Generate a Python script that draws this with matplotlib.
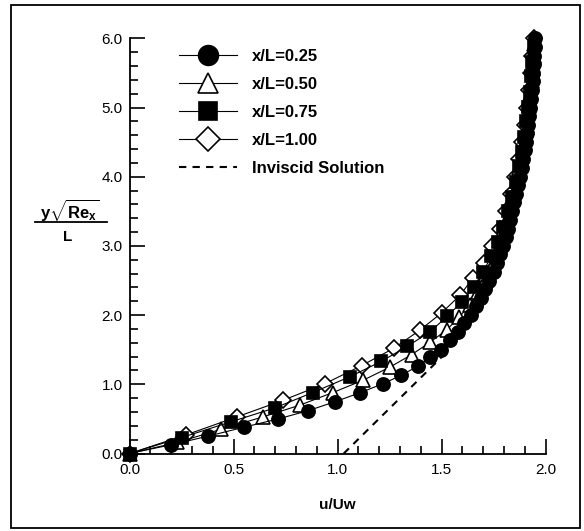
import matplotlib

matplotlib.use("Agg")

import matplotlib.pyplot as plt
from matplotlib.lines import Line2D
from matplotlib.patches import Rectangle
from matplotlib.ticker import MultipleLocator

plt.rcParams["font.family"] = ["Liberation Sans", "DejaVu Sans"]
plt.rcParams["mathtext.fontset"] = "custom"
plt.rcParams["mathtext.rm"] = "Liberation Sans:bold"
plt.rcParams["mathtext.it"] = "Liberation Sans:bold"
plt.rcParams["mathtext.bf"] = "Liberation Sans:bold"

# ---------------------------------------------------------------------------
# Data (u/Uw, y*sqrt(Re_x)/L)
# ---------------------------------------------------------------------------
u_025 = [0.0, 0.20, 0.377, 0.55, 0.715, 0.86, 0.99, 1.11, 1.22, 1.306, 1.385,
         1.445, 1.497, 1.54, 1.578, 1.61, 1.64, 1.665, 1.69, 1.71, 1.73, 1.75,
         1.765, 1.78, 1.795, 1.81, 1.82, 1.83, 1.84, 1.85, 1.86, 1.87, 1.877,
         1.885, 1.892, 1.90, 1.905, 1.91, 1.915, 1.92, 1.925, 1.93, 1.934,
         1.938, 1.941, 1.944, 1.947, 1.949, 1.95]
eta_025 = [0.0, 0.126, 0.25, 0.38, 0.50, 0.62, 0.75, 0.88, 1.01, 1.13, 1.26,
           1.39, 1.50, 1.64, 1.76, 1.88, 2.0, 2.13, 2.25, 2.38, 2.5, 2.63,
           2.75, 2.88, 3.0, 3.13, 3.25, 3.38, 3.5, 3.63, 3.75, 3.88, 4.0,
           4.13, 4.25, 4.38, 4.5, 4.63, 4.75, 4.88, 5.0, 5.13, 5.25, 5.38,
           5.5, 5.63, 5.75, 5.88, 6.0]

u_050 = [0.0, 0.23, 0.44, 0.643, 0.82, 0.977, 1.124, 1.253, 1.357, 1.446,
         1.526, 1.585, 1.635, 1.675, 1.71, 1.74, 1.765, 1.785, 1.805, 1.82,
         1.835, 1.85, 1.862, 1.874, 1.885, 1.895, 1.905, 1.913, 1.92, 1.927,
         1.933, 1.938, 1.943, 1.947]
eta_050 = [0.0, 0.16, 0.35, 0.53, 0.70, 0.88, 1.06, 1.25, 1.43, 1.61, 1.79,
           1.97, 2.15, 2.33, 2.5, 2.68, 2.86, 3.04, 3.22, 3.4, 3.58, 3.76,
           3.94, 4.12, 4.3, 4.48, 4.66, 4.84, 5.02, 5.2, 5.38, 5.56, 5.74,
           5.92]

u_075 = [0.0, 0.25, 0.49, 0.70, 0.88, 1.06, 1.21, 1.336, 1.446, 1.526,
         1.598, 1.655, 1.70, 1.74, 1.77, 1.795, 1.82, 1.84, 1.857, 1.872,
         1.885, 1.897, 1.907, 1.916, 1.924, 1.931, 1.937, 1.943]
eta_075 = [0.0, 0.23, 0.46, 0.66, 0.88, 1.11, 1.33, 1.55, 1.76, 1.98, 2.19,
           2.41, 2.63, 2.85, 3.06, 3.28, 3.5, 3.71, 3.93, 4.15, 4.36, 4.58,
           4.8, 5.01, 5.23, 5.45, 5.66, 5.88]

u_100 = [0.0, 0.273, 0.517, 0.739, 0.94, 1.116, 1.27, 1.395, 1.50, 1.59,
         1.65, 1.706, 1.745, 1.78, 1.81, 1.835, 1.855, 1.872, 1.887, 1.90,
         1.91, 1.92, 1.93, 1.937, 1.943]
eta_100 = [0.0, 0.27, 0.53, 0.77, 1.01, 1.27, 1.52, 1.78, 2.03, 2.29, 2.53,
           2.76, 3.0, 3.25, 3.5, 3.75, 4.0, 4.25, 4.5, 4.75, 5.0, 5.25, 5.5,
           5.75, 6.0]

u_inviscid = [1.03, 1.53]
eta_inviscid = [0.0, 1.48]

labels = ["x/L=0.25", "x/L=0.50", "x/L=0.75", "x/L=1.00", "Inviscid Solution"]

# ---------------------------------------------------------------------------
# Figure
# ---------------------------------------------------------------------------
W, H = 584, 531
fig = plt.figure(figsize=(W / 100, H / 100), dpi=100)
ax = fig.add_axes([129.5 / W, 77.5 / H, 416 / W, 415.2 / H])

line_kw = dict(color="black", lw=0.8, mec="black", mew=1.2, clip_on=False)
ax.plot(u_025, eta_025, marker="o", ms=9.5, mfc="black", label=labels[0],
        zorder=5, **line_kw)
ax.plot(u_050, eta_050, marker="^", ms=10, mfc="white", label=labels[1],
        zorder=3, **line_kw)
ax.plot(u_075, eta_075, marker="s", ms=8.5, mfc="black", label=labels[2],
        zorder=4, **line_kw)
ax.plot(u_100, eta_100, marker="D", ms=8, mfc="white", label=labels[3],
        zorder=2, **line_kw)
ax.plot(u_inviscid, eta_inviscid, ls=(0, (3.5, 3)), color="black", lw=1.5,
        label=labels[4], zorder=1)

ax.set_xlim(0, 2.0)
ax.set_ylim(0, 6.0)
ax.xaxis.set_major_locator(MultipleLocator(0.5))
ax.xaxis.set_minor_locator(MultipleLocator(0.1))
ax.yaxis.set_major_locator(MultipleLocator(1.0))
ax.yaxis.set_minor_locator(MultipleLocator(0.2))
ax.xaxis.set_major_formatter(lambda v, p: f"{v:.1f}")
ax.yaxis.set_major_formatter(lambda v, p: f"{v:.1f}")

for side in ("top", "right"):
    ax.spines[side].set_visible(False)
for side in ("left", "bottom"):
    ax.spines[side].set_linewidth(1.3)

ax.tick_params(which="both", direction="in", width=1.2, labelsize=11)
ax.tick_params(which="major", length=11)
ax.tick_params(which="minor", length=6)
ax.tick_params(axis="y", pad=5)
ax.tick_params(axis="x", pad=7)

ax.set_xlabel("u/Uw", fontsize=11, fontweight="bold", labelpad=15)

# stacked y label  y*sqrt(Re_x) / L
fig.text(70 / W, 1 - 211 / H, r"$y\sqrt{Re_x}$", fontsize=12,
         ha="center", va="center")
fig.add_artist(Line2D([35 / W, 107 / W], [1 - 222 / H, 1 - 222 / H],
                      color="black", lw=1.3))
fig.text(68 / W, 1 - 237 / H, "L", fontsize=11, fontweight="bold",
         ha="center", va="center")

leg = ax.legend(loc="upper left", bbox_to_anchor=(179 / W, 1 - 49 / H),
                bbox_transform=fig.transFigure, frameon=False,
                prop={"weight": "bold", "size": 12},
                handlelength=3.5, handletextpad=0.9, labelspacing=0.78,
                markerscale=1.5, borderpad=0, borderaxespad=0)

# outer frame
fig.add_artist(Rectangle((10.5 / W, 3.5 / H), 569.5 / W, 523 / H,
                         transform=fig.transFigure, fill=False,
                         edgecolor="black", lw=1.3))

fig.savefig("out.png", dpi=100)
